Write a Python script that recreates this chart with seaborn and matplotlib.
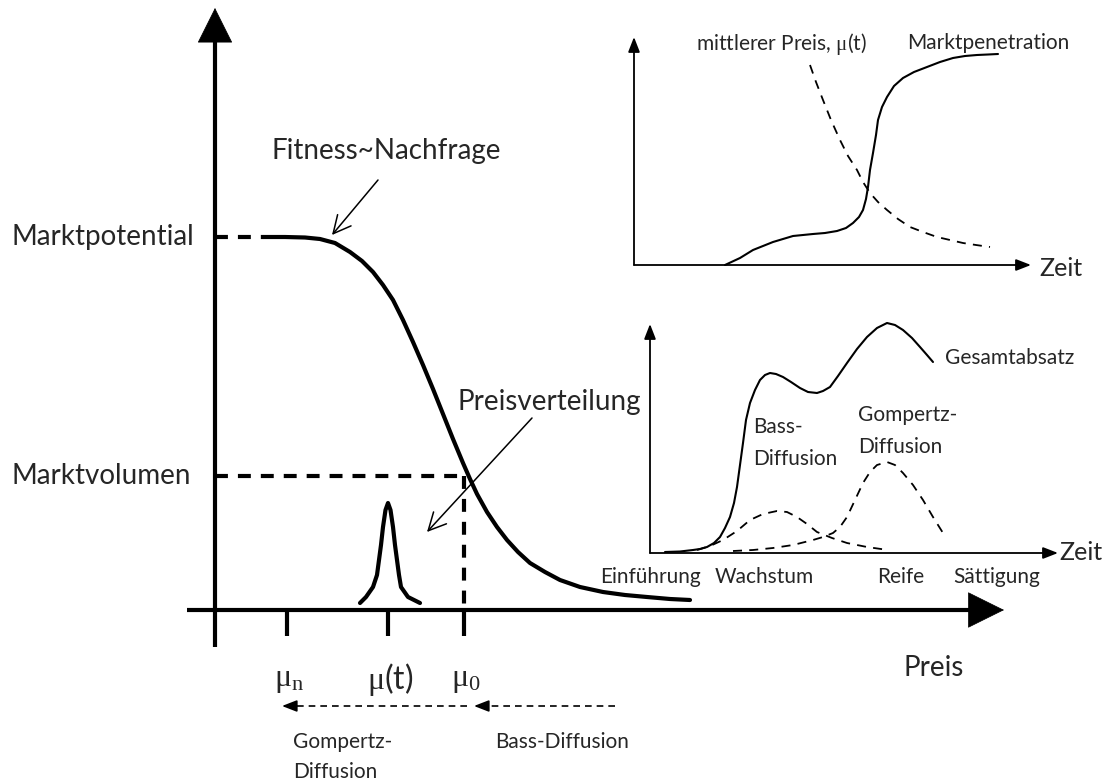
import matplotlib
matplotlib.use("Agg")
import matplotlib.pyplot as plt
import seaborn as sns

# ---- data (pixel coords of the 1104x780 drawing, y down) ----
# main demand curve (Fitness ~ Nachfrage)
demand_x = [264, 285, 305, 320, 335, 350, 362, 373, 383, 393, 403, 413, 423, 433, 443, 453,
            463, 470, 477, 487, 497, 507, 518, 530, 545, 560, 580, 603, 625, 647, 670, 690]
demand_y = [237, 237, 237.5, 239, 243, 252, 261, 272, 285, 300, 320, 342, 365, 389, 414, 439,
            463, 479, 494, 512, 527, 540, 552, 563, 572, 580, 587, 592, 595, 597, 599, 600]

# price distribution peak around mu(t)
peak_x = [360, 366, 373, 377, 379, 381, 383, 385.5, 388, 390.5, 393, 395, 397, 399, 401, 408, 420]
peak_y = [603, 597, 587, 575, 560, 545, 527, 510, 503, 510, 527, 545, 560, 575, 587, 597, 603]

# inset 1: market penetration (solid) and mean price (dashed)
pen_x = [725, 740, 753, 763, 773, 783, 793, 803, 813, 825, 837, 846, 853, 859, 863, 866, 868, 870,
         873, 876, 878, 882, 887, 894, 903, 914, 927, 940, 953, 965, 977, 988, 998]
pen_y = [265, 258, 250, 246, 242, 239, 236, 235, 234, 233, 231, 228, 223, 217, 210, 199, 187, 170,
         153, 135, 120, 107, 97, 86, 78, 72, 67, 62, 58, 56, 55, 54.5, 54]
price_x = [810, 816, 823, 831, 840, 848, 857, 863, 870, 878, 887, 898, 910, 923, 937, 950, 963, 976, 990]
price_y = [65, 82, 100, 120, 140, 156, 170, 182, 193, 202, 210, 219, 227, 232, 237, 240, 243, 245, 247]

# inset 2: total sales (solid), Bass and Gompertz diffusion (dashed)
total_x = [665, 680, 693, 700, 707, 714, 720, 725, 730, 734, 737, 740, 743, 746, 750, 755, 760, 765,
           770, 776, 783, 791, 800, 808, 817, 823, 830, 838, 847, 857, 867, 877, 887, 895, 903, 912,
           920, 927, 933]
total_y = [552, 551.5, 550, 549, 547, 543, 537, 528, 517, 503, 487, 465, 443, 420, 403, 390, 380, 375,
           373, 374, 377, 382, 388, 392, 393, 391, 387, 376, 363, 349, 337, 328, 323, 325, 330, 338,
           347, 355, 362]
bass_x = [697, 710, 723, 737, 750, 763, 777, 787, 797, 807, 817, 832, 847, 867, 888]
bass_y = [550, 546, 540, 531, 520, 514, 511, 512, 517, 524, 532, 538, 543, 547, 550]
gomp_x = [733, 753, 773, 793, 813, 823, 833, 840, 847, 855, 863, 870, 877, 887, 895, 903, 913, 923,
          933, 943]
gomp_y = [551, 550, 548, 545, 540, 537, 533, 527, 517, 500, 483, 472, 465, 462, 465, 473, 485, 500,
          517, 533]

# price ticks on the main x axis
tick_x = [287, 388, 464]
tick_labels = [r"$\mathrm{\mu_n}$", r"$\mathrm{\mu}$(t)", r"$\mathrm{\mu_0}$"]
phase_labels = ["Einführung", "Wachstum", "Reife", "Sättigung"]
phase_x = [600, 715, 877, 953]

sns.set_theme(style="white")
plt.rcParams["font.family"] = ["Lato", "DejaVu Sans"]
plt.rcParams["mathtext.fontset"] = "custom"
plt.rcParams["mathtext.rm"] = "Liberation Serif"
plt.rcParams["mathtext.it"] = "Liberation Serif"

fig = plt.figure(figsize=(11.04, 7.80), dpi=100)
ax = fig.add_axes([0, 0, 1, 1])
ax.set_xlim(0, 1104)
ax.set_ylim(780, 0)
ax.axis("off")

K = "black"


def arrow(x0, y0, x1, y1, lw, scale, hl, hw, style="-|>"):
    ax.annotate("", xy=(x1, y1), xytext=(x0, y0),
                arrowprops=dict(arrowstyle=f"{style},head_length={hl},head_width={hw}",
                                color=K, lw=lw, shrinkA=0, shrinkB=0, mutation_scale=scale))


# main axes with big triangular heads
ax.plot([215, 215], [647, 40], color=K, lw=3, solid_capstyle="butt")
arrow(215, 60, 215, 8, 0.5, 20, 1.2, 0.6)
ax.plot([187, 970], [610, 610], color=K, lw=3, solid_capstyle="butt")
arrow(950, 610, 1004, 610, 0.5, 20, 1.25, 0.62)

# ticks
for tx in tick_x:
    ax.plot([tx, tx], [610, 636], color=K, lw=3, solid_capstyle="butt")

# helper dashed lines
dash_main = (0, (3.1, 2.4))
ax.plot([215, 264], [237, 237], color=K, lw=3, linestyle=dash_main)
ax.plot([215, 464], [476, 476], color=K, lw=3, linestyle=dash_main)
ax.plot([464, 464], [476, 610], color=K, lw=3, linestyle=dash_main)

# curves
sns.lineplot(x=demand_x, y=demand_y, ax=ax, color=K, lw=3, sort=False, estimator=None)
sns.lineplot(x=peak_x, y=peak_y, ax=ax, color=K, lw=3, sort=False, estimator=None)

# pointer arrows
arrow(378, 180, 332, 235, 1.1, 18, 0.7, 0.35, style="->")
arrow(532, 418, 427, 532, 1.1, 18, 0.7, 0.35, style="->")

# main labels
big = 20
ax.text(11, 237, "Marktpotential", fontsize=big, va="center", ha="left")
ax.text(11, 476, "Marktvolumen", fontsize=big, va="center", ha="left")
ax.text(272, 151, "Fitness~Nachfrage", fontsize=big, va="center", ha="left")
ax.text(457, 402, "Preisverteilung", fontsize=big, va="center", ha="left")
ax.text(904, 668, "Preis", fontsize=big, va="center", ha="left")
for tx, lab in zip(tick_x, tick_labels):
    ax.text(tx + 2, 680, lab, fontsize=23, va="center", ha="center")

# dashed arrows below the price axis
dash_small = (0, (4, 3))
small = 15
ax.plot([467, 290], [706, 706], color=K, lw=1.2, linestyle=dash_small)
arrow(292, 706, 282, 706, 1.2, 10, 0.9, 0.35)
ax.plot([615, 482], [706, 706], color=K, lw=1.2, linestyle=dash_small)
arrow(484, 706, 474, 706, 1.2, 10, 0.9, 0.35)
ax.text(293, 742, "Gompertz-", fontsize=small, va="center", ha="left")
ax.text(293, 772, "Diffusion", fontsize=small, va="center", ha="left")
ax.text(495, 742, "Bass-Diffusion", fontsize=small, va="center", ha="left")

# ---- inset 1 ----
ax.plot([634, 634], [265, 45], color=K, lw=1.3)
arrow(634, 50, 634, 37, 1.3, 10, 0.9, 0.35)
ax.plot([634, 1022], [265, 265], color=K, lw=1.3)
arrow(1018, 265, 1031, 265, 1.3, 10, 0.9, 0.35)
sns.lineplot(x=pen_x, y=pen_y, ax=ax, color=K, lw=1.5, sort=False, estimator=None)
sns.lineplot(x=price_x, y=price_y, ax=ax, color=K, lw=1.3, sort=False, estimator=None,
             linestyle=(0, (5, 4)))
ax.text(1039, 268, "Zeit", fontsize=18, va="center", ha="left")
ax.text(696, 44, r"mittlerer Preis, $\mathrm{\mu}$(t)", fontsize=small, va="center", ha="left")
ax.text(907, 43, "Marktpenetration", fontsize=small, va="center", ha="left")

# ---- inset 2 ----
ax.plot([650, 650], [553, 332], color=K, lw=1.3)
arrow(650, 337, 650, 324, 1.3, 10, 0.9, 0.35)
ax.plot([650, 1049], [553, 553], color=K, lw=1.3)
arrow(1045, 553, 1058, 553, 1.3, 10, 0.9, 0.35)
sns.lineplot(x=total_x, y=total_y, ax=ax, color=K, lw=1.5, sort=False, estimator=None)
sns.lineplot(x=bass_x, y=bass_y, ax=ax, color=K, lw=1.3, sort=False, estimator=None,
             linestyle=(0, (5, 4)))
sns.lineplot(x=gomp_x, y=gomp_y, ax=ax, color=K, lw=1.3, sort=False, estimator=None,
             linestyle=(0, (5, 4)))
ax.text(1059, 552, "Zeit", fontsize=18, va="center", ha="left")
ax.text(945, 358, "Gesamtabsatz", fontsize=small, va="center", ha="left")
ax.text(753, 427, "Bass-", fontsize=small, va="center", ha="left")
ax.text(753, 459, "Diffusion", fontsize=small, va="center", ha="left")
ax.text(858, 415, "Gompertz-", fontsize=small, va="center", ha="left")
ax.text(858, 447, "Diffusion", fontsize=small, va="center", ha="left")
for px, lab in zip(phase_x, phase_labels):
    ax.text(px, 577, lab, fontsize=small, va="center", ha="left")

fig.savefig("out.png", dpi=100)
